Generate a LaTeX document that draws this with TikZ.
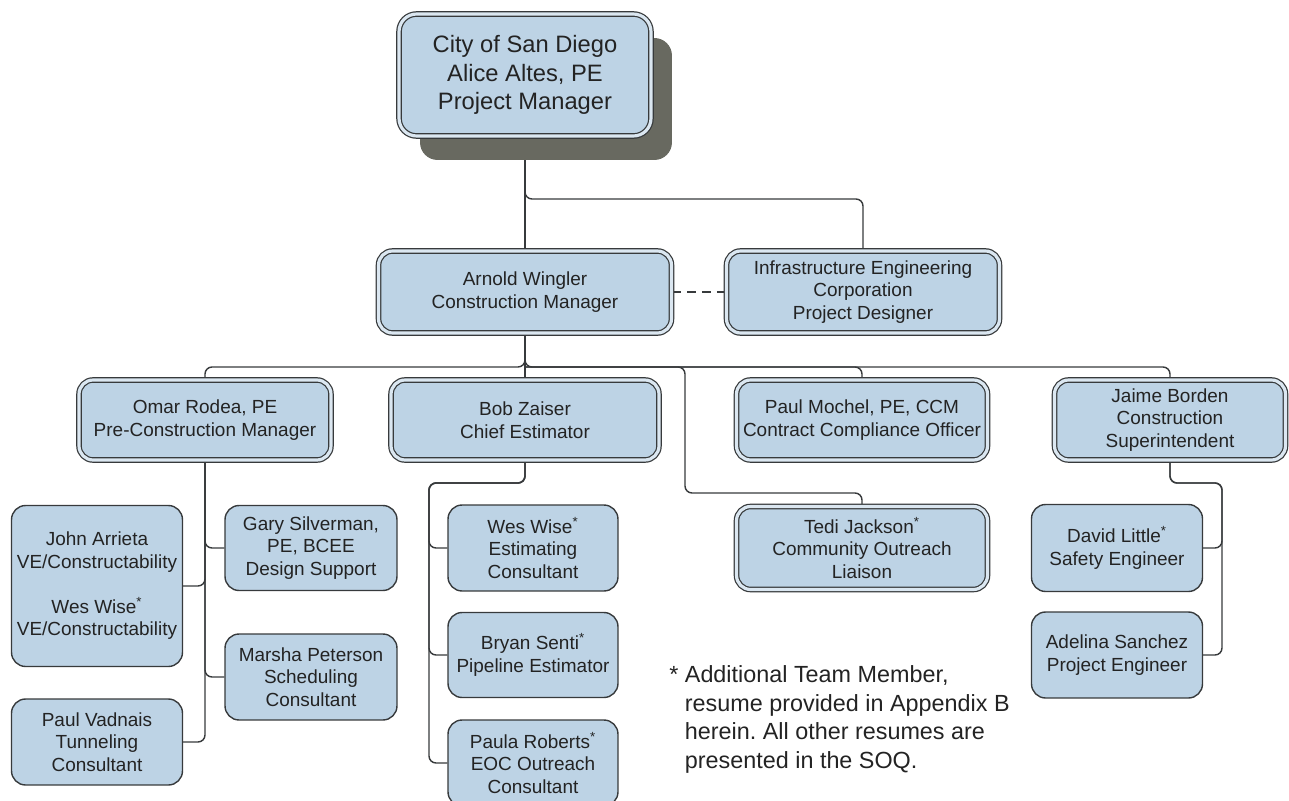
\documentclass[tikz,border=0pt]{standalone}
\usepackage{fontspec}
\setmainfont{Liberation Sans}
\usetikzlibrary{shadows,backgrounds}
\frenchspacing

\definecolor{boxblue}{RGB}{189,211,229}
\definecolor{edgegray}{RGB}{55,58,60}
\definecolor{shadegray}{RGB}{104,105,96}
\definecolor{inkgray}{RGB}{35,35,35}

\tikzset{
    lead/.style={draw=edgegray, line width=0.7pt, double=boxblue!55!white, double distance=1.8pt,
        fill=boxblue, rounded corners=8pt, align=center, inner sep=2pt, text=inkgray,
        font=\fontsize{10.8}{12.8}\selectfont},
    staff/.style={draw=edgegray, line width=0.8pt, fill=boxblue, rounded corners=8pt,
        align=center, inner sep=2pt, text=inkgray, font=\fontsize{10.8}{12.8}\selectfont},
    link/.style={draw=edgegray, line width=0.8pt, rounded corners=4pt},
}

\begin{document}
\begin{tikzpicture}[x=0.02cm, y=-0.02cm]
    \useasboundingbox (0,0) rectangle (1289,801);

    % project manager
    \node[lead, minimum width=5.04cm, minimum height=2.44cm, rounded corners=10pt,
        font=\fontsize{13.5}{16.2}\selectfont,
        drop shadow={shadow xshift=0.42cm, shadow yshift=-0.48cm, fill=shadegray, opacity=1}]
        (pm) at (525,75) {City of San Diego\\Alice Altes, PE\\Project Manager};

    % second row
    \node[lead, minimum width=5.86cm, minimum height=1.64cm] (cm) at (525,292)
        {Arnold Wingler\\Construction Manager};
    \node[lead, minimum width=5.46cm, minimum height=1.64cm] (ied) at (863,292)
        {Infrastructure Engineering\\Corporation\\Project Designer};

    % third row
    \node[lead, minimum width=5.04cm, minimum height=1.6cm] (om) at (205,420)
        {Omar Rodea, PE\\Pre-Construction Manager};
    \node[lead, minimum width=5.36cm, minimum height=1.6cm] (bz) at (525,420)
        {Bob Zaiser\\Chief Estimator};
    \node[lead, minimum width=5.02cm, minimum height=1.6cm] (pmo) at (862,420)
        {Paul Mochel, PE, CCM\\Contract Compliance Officer};
    \node[lead, minimum width=4.62cm, minimum height=1.6cm] (jb) at (1170,420)
        {Jaime Borden\\Construction\\Superintendent};
    \node[lead, minimum width=5.02cm, minimum height=1.66cm] (tj) at (862,548)
        {Tedi Jackson\textsuperscript{*}\\Community Outreach\\Liaison};

    % staff under Omar
    \node[staff, minimum width=3.42cm, minimum height=3.22cm] (ja) at (97,586)
        {John Arrieta\\VE/Constructability\\[12.8pt]Wes Wise\textsuperscript{*}\\VE/Constructability};
    \node[staff, minimum width=3.42cm, minimum height=1.72cm] (pv) at (97,742)
        {Paul Vadnais\\Tunneling\\Consultant};
    \node[staff, minimum width=3.44cm, minimum height=1.7cm] (gs) at (311,548)
        {Gary Silverman,\\PE, BCEE\\Design Support};
    \node[staff, minimum width=3.44cm, minimum height=1.72cm] (mp) at (311,677)
        {Marsha Peterson\\Scheduling\\Consultant};

    % staff under Bob
    \node[staff, minimum width=3.4cm, minimum height=1.72cm] (ww) at (533,548)
        {Wes Wise\textsuperscript{*}\\Estimating\\Consultant};
    \node[staff, minimum width=3.4cm, minimum height=1.7cm] (bs) at (533,655)
        {Bryan Senti\textsuperscript{*}\\Pipeline Estimator};
    \node[staff, minimum width=3.4cm, minimum height=1.72cm] (pr) at (533,763)
        {Paula Roberts\textsuperscript{*}\\EOC Outreach\\Consultant};

    % staff under Jaime
    \node[staff, minimum width=3.42cm, minimum height=1.74cm] (dl) at (1117,548)
        {David Little\textsuperscript{*}\\Safety Engineer};
    \node[staff, minimum width=3.42cm, minimum height=1.72cm] (adl) at (1117,655)
        {Adelina Sanchez\\Project Engineer};

    % footnote
    \node[anchor=north west, inner sep=0pt, align=left, text=inkgray,
        font=\fontsize{13.3}{16.4}\selectfont] (note) at (669,665)
        {*~Additional Team Member,\\\phantom{*~}resume provided in Appendix B\\
         \phantom{*~}herein. All other resumes are\\\phantom{*~}presented in the SOQ.};

    \begin{scope}[on background layer]
        \coordinate (tsplit) at (525,199);
        \coordinate (hub) at (525,367);
        \coordinate (tbend) at (685,493);
        \coordinate (bbend) at (429,483);
        \coordinate (jbend) at (1222,483);

        \draw[link] (pm.south) -- (cm.north);
        \draw[link] (pm.south) -- (tsplit) -| (ied.north);
        \draw[link, dash pattern=on 5pt off 3.5pt] (cm.east) -- (ied.west);

        \draw[link] (cm.south) -- (hub) -| (om.north);
        \draw[link] (cm.south) -- (hub) -| (jb.north);
        \draw[link] (cm.south) -- (bz.north);
        \draw[link] (hub) -| (pmo.north);
        \draw[link] (hub) -| (tbend) -| (tj.north);

        \draw[link] (om.south) |- (gs.west);
        \draw[link] (om.south) |- (ja.east);
        \draw[link] (om.south) |- (mp.west);
        \draw[link] (om.south) |- (pv.east);

        \draw[link] (bz.south) |- (bbend) |- (ww.west);
        \draw[link] (bz.south) |- (bbend) |- (bs.west);
        \draw[link] (bz.south) |- (bbend) |- (pr.west);

        \draw[link] (jb.south) |- (jbend) |- (dl.east);
        \draw[link] (jb.south) |- (jbend) |- (adl.east);
    \end{scope}
\end{tikzpicture}
\end{document}
